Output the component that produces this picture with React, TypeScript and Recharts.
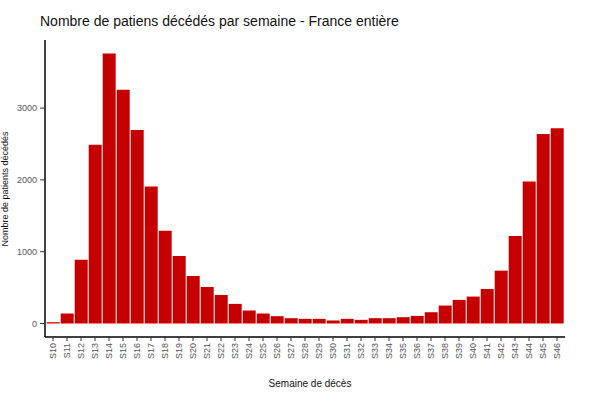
import React from "react";
import { BarChart, Bar, XAxis, YAxis } from "recharts";

const weeks = [
  "S10","S11","S12","S13","S14","S15","S16","S17","S18","S19",
  "S20","S21","S22","S23","S24","S25","S26","S27","S28","S29",
  "S30","S31","S32","S33","S34","S35","S36","S37","S38","S39",
  "S40","S41","S42","S43","S44","S45","S46",
];
const deaths = [
  18, 139, 889, 2491, 3759, 3255, 2694, 1907, 1292, 940,
  662, 509, 398, 273, 181, 139, 102, 74, 65, 65,
  42, 65, 51, 74, 74, 88, 106, 157, 250, 329,
  375, 481, 736, 1218, 1977, 2639, 2718,
];
const yTicks = [0, 1000, 2000, 3000];

const data = weeks.map((w, i) => ({ week: w, deaths: deaths[i] }));

const FONT = "'Liberation Sans', Arial, sans-serif";

const XTick = (props: any) => {
  const { x, y, payload } = props;
  return (
    <g transform={`translate(${x},${y})`}>
      <text
        transform="rotate(-90)"
        x={0}
        y={0}
        dy="0.35em"
        textAnchor="end"
        fontSize={9}
        fill="#555"
        fontFamily={FONT}
      >
        {payload.value}
      </text>
    </g>
  );
};

export default function App() {
  return (
    <div style={{ position: "absolute", left: 0, top: 0, width: 600, height: 399, background: "#fff" }}>
      <BarChart
        width={600}
        height={399}
        data={data}
        margin={{ top: 40, right: 35, bottom: 0, left: 5 }}
        barCategoryGap="5%"
      >
        <XAxis
          dataKey="week"
          interval={0}
          height={62}
          padding={{ left: 1, right: 1 }}
          axisLine={{ stroke: "#000", strokeWidth: 1.5 }}
          tickLine={{ stroke: "#333" }}
          tickSize={4}
          tickMargin={2}
          tick={<XTick />}
        />
        <YAxis
          width={40}
          domain={[-188, 3948]}
          ticks={yTicks}
          allowDataOverflow
          axisLine={{ stroke: "#000", strokeWidth: 1.5 }}
          tickLine={{ stroke: "#333" }}
          tickSize={5}
          tickMargin={3}
          tick={{ fontSize: 9, fill: "#555", fontFamily: FONT }}
        />
        <Bar dataKey="deaths" fill="#C60000" isAnimationActive={false} />
      </BarChart>
      <svg
        width={600}
        height={399}
        style={{ position: "absolute", left: 0, top: 0, pointerEvents: "none" }}
      >
        <text x={40} y={26} fontSize={14} fill="#111" fontFamily={FONT}>
          Nombre de patiens décédés par semaine - France entière
        </text>
        <text
          transform="translate(8,189) rotate(-90)"
          textAnchor="middle"
          fontSize={9}
          fill="#111"
          fontFamily={FONT}
        >
          Nombre de patients décédés
        </text>
        <text x={310} y={387} textAnchor="middle" fontSize={10} fill="#111" fontFamily={FONT}>
          Semaine de décès
        </text>
      </svg>
    </div>
  );
}
